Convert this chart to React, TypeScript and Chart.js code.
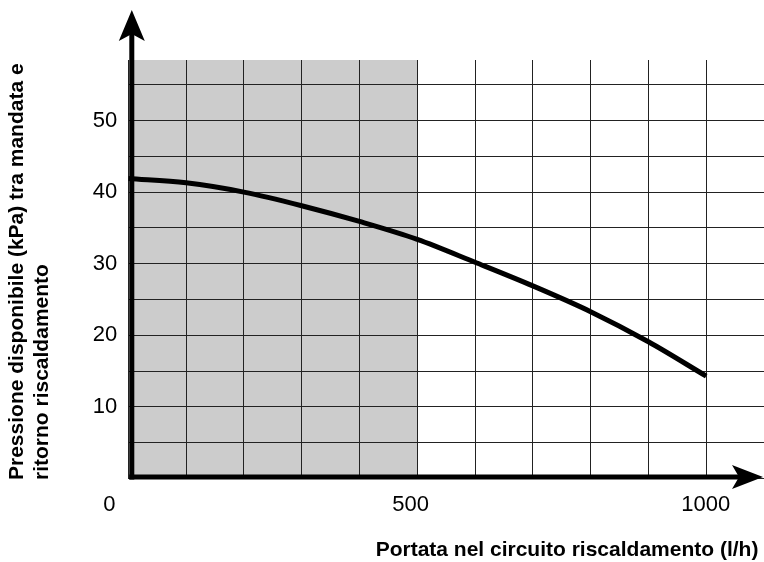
import React, { useEffect, useRef } from "react";
import { Chart, registerables } from "chart.js";

Chart.register(...registerables);

const flowValues = [0, 100, 200, 300, 400, 500, 600, 700, 800, 900, 1000];
const pressureValues = [41.9, 41.3, 40.0, 38.1, 35.9, 33.4, 30.2, 26.9, 23.3, 19.1, 14.3];
const xGridTicks = [0, 100, 200, 300, 400, 500, 600, 700, 800, 900, 1000];
const xLabelTicks = [0, 500, 1000];
const yGridTicks = [0, 5, 10, 15, 20, 25, 30, 35, 40, 45, 50, 55];
const yLabelTicks = [10, 20, 30, 40, 50];
const xMax = 1100;
const yMax = 58.45;
const shadedUpTo = 500;
const xTitle = "Portata nel circuito riscaldamento (l/h)";
const yTitleLines = ["Pressione disponibile (kPa) tra mandata e", "ritorno riscaldamento"];

const FONT = '"Liberation Sans", Arial, Helvetica, sans-serif';

const decorPlugin = {
  id: "decor",
  beforeDraw(chart: any) {
    const { ctx, chartArea, scales } = chart;
    ctx.save();
    ctx.fillStyle = "#ffffff";
    ctx.fillRect(0, 0, chart.width, chart.height);
    const x0 = scales.x.getPixelForValue(0);
    const x1 = scales.x.getPixelForValue(shadedUpTo);
    ctx.fillStyle = "#cccccc";
    ctx.fillRect(x0, chartArea.top, x1 - x0, chartArea.bottom - chartArea.top);
    ctx.restore();
  },
  afterDraw(chart: any) {
    const { ctx, scales } = chart;
    const ax = scales.x.getPixelForValue(0) + 3.5;
    const ay = scales.y.getPixelForValue(0) - 1.5;
    ctx.save();
    ctx.fillStyle = "#000";
    ctx.strokeStyle = "#000";
    ctx.lineWidth = 5;
    ctx.lineCap = "butt";
    // y axis
    ctx.beginPath();
    ctx.moveTo(ax, ay + 2.5);
    ctx.lineTo(ax, 30);
    ctx.stroke();
    // x axis
    ctx.beginPath();
    ctx.moveTo(ax - 2.5, ay);
    ctx.lineTo(745, ay);
    ctx.stroke();
    // y arrow
    ctx.beginPath();
    ctx.moveTo(ax, 10);
    ctx.lineTo(ax + 13, 41);
    ctx.lineTo(ax, 34);
    ctx.lineTo(ax - 13, 41);
    ctx.closePath();
    ctx.fill();
    // x arrow
    const tip = chart.width - 1;
    ctx.beginPath();
    ctx.moveTo(tip, ay);
    ctx.lineTo(tip - 31, ay + 12);
    ctx.lineTo(tip - 24, ay);
    ctx.lineTo(tip - 31, ay - 12);
    ctx.closePath();
    ctx.fill();

    // titles
    ctx.font = "bold 21px " + FONT;
    ctx.textAlign = "center";
    ctx.textBaseline = "middle";
    ctx.fillText(xTitle, 567, 550);

    ctx.textAlign = "left";
    const lineX = [17, 42];
    yTitleLines.forEach((line, i) => {
      ctx.save();
      ctx.translate(lineX[i], 480);
      ctx.rotate(-Math.PI / 2);
      ctx.fillText(line, 0, 0);
      ctx.restore();
    });
    ctx.restore();
  },
};

export default function App() {
  const canvasRef = useRef<HTMLCanvasElement | null>(null);

  useEffect(() => {
    if (!canvasRef.current) return;
    const chart = new Chart(canvasRef.current, {
      type: "line",
      data: {
        datasets: [
          {
            data: flowValues.map((x, i) => ({ x, y: pressureValues[i] })),
            borderColor: "#000",
            borderWidth: 5,
            pointRadius: 0,
            cubicInterpolationMode: "monotone",
            fill: false,
          },
        ],
      },
      options: {
        responsive: false,
        animation: false,
        devicePixelRatio: 1,
        layout: { padding: { top: 60, right: 0, left: 0, bottom: 0 } },
        plugins: { legend: { display: false }, tooltip: { enabled: false }, title: { display: false } },
        scales: {
          x: {
            type: "linear",
            min: 0,
            max: xMax,
            afterBuildTicks: (scale: any) => {
              scale.ticks = xGridTicks.map((v) => ({ value: v }));
            },
            afterFit: (scale: any) => {
              scale.height = 83.5;
              scale.paddingLeft = 0;
              scale.paddingRight = 0;
            },
            grid: { color: "#222", lineWidth: 1, drawTicks: false },
            border: { display: false },
            ticks: {
              autoSkip: false,
              maxRotation: 0,
              align: "start",
              padding: 13,
              labelOffset: -25,
              color: "#000",
              font: { family: FONT, size: 22 },
              callback: (v: any) => (xLabelTicks.includes(Number(v)) ? String(v) : ""),
            },
          },
          y: {
            type: "linear",
            min: 0,
            max: yMax,
            afterBuildTicks: (scale: any) => {
              scale.ticks = yGridTicks.map((v) => ({ value: v }));
            },
            afterFit: (scale: any) => {
              scale.width = 128.3;
              scale.paddingTop = 0;
              scale.paddingBottom = 0;
            },
            grid: { color: "#222", lineWidth: 1, drawTicks: false },
            border: { display: false },
            ticks: {
              padding: 11,
              color: "#000",
              font: { family: FONT, size: 22 },
              callback: (v: any) => (yLabelTicks.includes(Number(v)) ? String(v) : ""),
            },
          },
        },
      },
      plugins: [decorPlugin],
    } as any);
    return () => chart.destroy();
  }, []);

  return (
    <div style={{ position: "fixed", left: 0, top: 0, width: 764, height: 562, background: "#fff" }}>
      <canvas ref={canvasRef} width={764} height={562} style={{ display: "block", width: 764, height: 562 }} />
    </div>
  );
}
